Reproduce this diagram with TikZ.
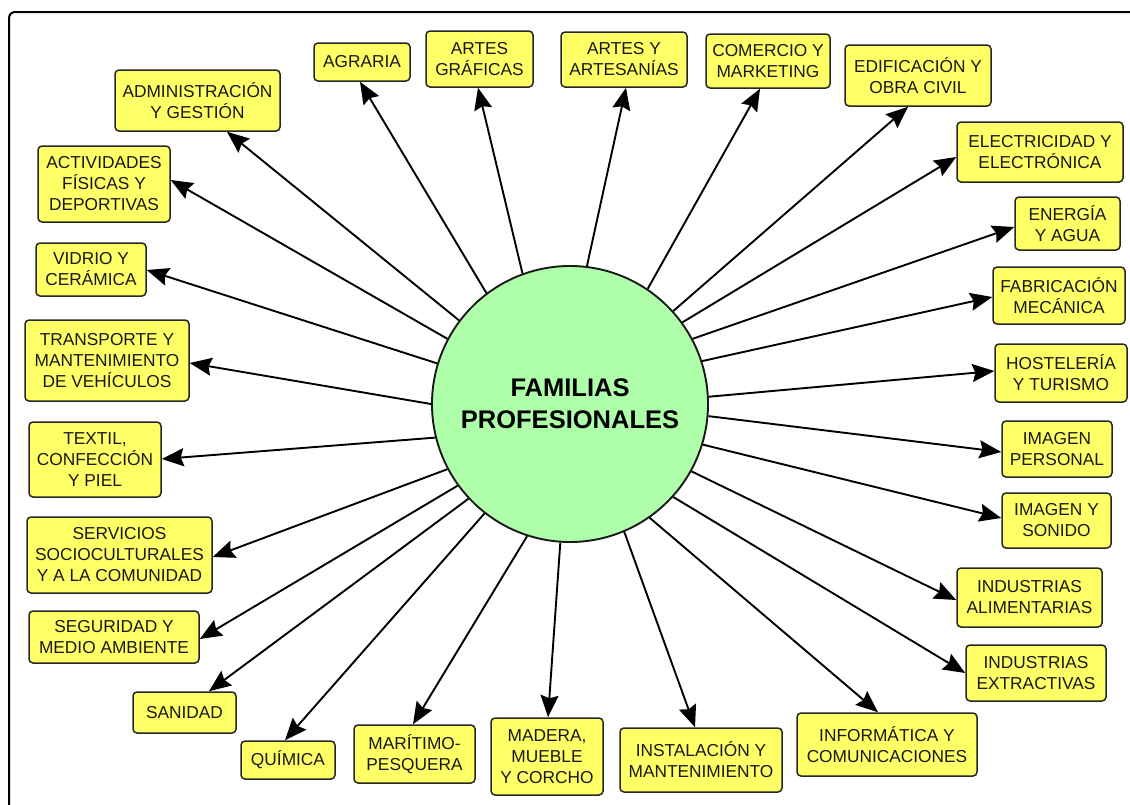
\documentclass[tikz,border=0pt]{standalone}
\usepackage{fontspec}
\setmainfont{Liberation Sans}
\usetikzlibrary{arrows.meta}
\definecolor{boxyellow}{RGB}{255,255,102}
\definecolor{circgreen}{RGB}{175,255,170}
\newcommand\famboxfont{\fontsize{17.3}{21}\selectfont}
\newcommand\famcentfont{\fontsize{25.5}{32}\selectfont\bfseries}
\tikzset{
  fam/.style={draw=black!85, line width=1.5pt, fill=boxyellow, rounded corners=4pt,
    inner sep=0pt, align=center, font=\famboxfont, text=black!90},
  link/.style={line width=1.9pt, draw=black, -{Stealth[length=22pt,width=18pt,inset=3pt]}},
  frame/.style={line width=2pt, rounded corners=6pt, draw=black},
}
\begin{document}
\begin{tikzpicture}[x=1pt, y=-1pt]
\useasboundingbox (0,0) rectangle (1130,804);
\begin{scope}
  \clip (0,0) rectangle (1130,804);
  \draw[frame] (9,12) rectangle (1160,840);
\end{scope}

\node[draw=black!90, line width=1.9pt, fill=circgreen, circle, minimum size=276pt,
  inner sep=0pt, align=center, font=\famcentfont] (c) at (570,404) {FAMILIAS\\PROFESIONALES};

\node[fam, minimum width=165pt, minimum height=61pt] (adm) at (197.5,100.5) {ADMINISTRACIÓN\\Y GESTIÓN};
\node[fam, minimum width=96pt, minimum height=38pt] (agr) at (362,62) {AGRARIA};
\node[fam, minimum width=107pt, minimum height=56pt] (agraf) at (479.5,59) {ARTES\\GRÁFICAS};
\node[fam, minimum width=126pt, minimum height=55pt] (aart) at (624,59.5) {ARTES Y\\ARTESANÍAS};
\node[fam, minimum width=124pt, minimum height=54pt] (com) at (768,61) {COMERCIO Y\\MARKETING};
\node[fam, minimum width=146pt, minimum height=61pt] (edi) at (918,75.5) {EDIFICACIÓN Y\\OBRA CIVIL};
\node[fam, minimum width=166pt, minimum height=60pt] (ele) at (1040,152) {ELECTRICIDAD Y\\ELECTRÓNICA};
\node[fam, minimum width=105pt, minimum height=53pt] (ene) at (1067.5,223.5) {ENERGÍA\\Y AGUA};
\node[fam, minimum width=132pt, minimum height=57pt] (fab) at (1059,295.5) {FABRICACIÓN\\MECÁNICA};
\node[fam, minimum width=132pt, minimum height=58pt] (hos) at (1061,373) {HOSTELERÍA\\Y TURISMO};
\node[fam, minimum width=110pt, minimum height=56pt] (imp) at (1057,449) {IMAGEN\\PERSONAL};
\node[fam, minimum width=109pt, minimum height=55pt] (ims) at (1056.5,520.5) {IMAGEN Y\\SONIDO};
\node[fam, minimum width=145pt, minimum height=59pt] (ial) at (1029.5,597.5) {INDUSTRIAS\\ALIMENTARIAS};
\node[fam, minimum width=140pt, minimum height=56pt] (iex) at (1036,673) {INDUSTRIAS\\EXTRACTIVAS};
\node[fam, minimum width=180pt, minimum height=63pt] (inf) at (887,744.5) {INFORMÁTICA Y\\COMUNICACIONES};
\node[fam, minimum width=162pt, minimum height=64pt] (ins) at (701,760) {INSTALACIÓN Y\\MANTENIMIENTO};
\node[fam, minimum width=112pt, minimum height=77pt] (mad) at (547,756.5) {MADERA,\\MUEBLE\\Y CORCHO};
\node[fam, minimum width=121pt, minimum height=58pt] (mar) at (414.5,754) {MARÍTIMO-\\PESQUERA};
\node[fam, minimum width=94pt, minimum height=38pt] (qui) at (288,760) {QUÍMICA};
\node[fam, minimum width=103pt, minimum height=41pt] (san) at (184.5,712.5) {SANIDAD};
\node[fam, minimum width=170pt, minimum height=52pt] (seg) at (114,637) {SEGURIDAD Y\\MEDIO AMBIENTE};
\node[fam, minimum width=185pt, minimum height=76pt] (ser) at (119.5,555) {SERVICIOS\\SOCIOCULTURALES\\Y A LA COMUNIDAD};
\node[fam, minimum width=132pt, minimum height=75pt] (tex) at (95,459.5) {TEXTIL,\\CONFECCIÓN\\Y PIEL};
\node[fam, minimum width=164pt, minimum height=81pt] (tra) at (107,360.5) {TRANSPORTE Y\\MANTENIMIENTO\\DE VEHÍCULOS};
\node[fam, minimum width=110pt, minimum height=53pt] (vid) at (91,269.5) {VIDRIO Y\\CERÁMICA};
\node[fam, minimum width=132pt, minimum height=76pt] (act) at (104,184) {ACTIVIDADES\\FÍSICAS Y\\DEPORTIVAS};

\draw[link] (c.143) -- ([xshift=29.5pt]adm.south);
\draw[link] (c.127) -- ([xshift=-2pt]agr.south);
\draw[link] (c.110) -- ([xshift=-1.5pt]agraf.south);
\draw[link] (c.83) -- ([xshift=2pt]aart.south);
\draw[link] (c.56) -- ([xshift=-8pt]com.south);
\draw[link] (c.42) -- ([xshift=-10pt]edi.south);
\draw[link] (c.36) -- ([yshift=-5pt]ele.west);
\draw[link] (c.28) -- ([yshift=-3.5pt]ene.west);
\draw[link] (c.18) -- ([yshift=-1.5pt]fab.west);
\draw[link] (c.3) -- ([yshift=2pt]hos.west);
\draw[link] (c.355) -- ([yshift=-3pt]imp.west);
\draw[link] (c.343) -- ([yshift=2.5pt]ims.west);
\draw[link] (c.331) -- ([yshift=-2.5pt]ial.west);
\draw[link] (c.318) -- (iex.west);
\draw[link] (c.305) -- ([xshift=-9pt]inf.north);
\draw[link] (c.293) -- ([xshift=-6pt]ins.north);
\draw[link] (c.266) -- ([xshift=1pt]mad.north);
\draw[link] (c.252) -- ([xshift=-1.5pt]mar.north);
\draw[link] (c.232) -- ([xshift=-3pt]qui.north);
\draw[link] (c.223) -- ([xshift=24.5pt]san.north);
\draw[link] (c.216) -- ([yshift=-2pt]seg.east);
\draw[link] (c.208) -- ([yshift=-2pt]ser.east);
\draw[link] (c.194) -- ([yshift=0.5pt]tex.east);
\draw[link] (c.180) -- ([yshift=-2.5pt]tra.east);
\draw[link] (c.163) -- ([yshift=-0.5pt]vid.east);
\draw[link] (c.152) -- ([yshift=4pt]act.east);
\end{tikzpicture}
\end{document}
